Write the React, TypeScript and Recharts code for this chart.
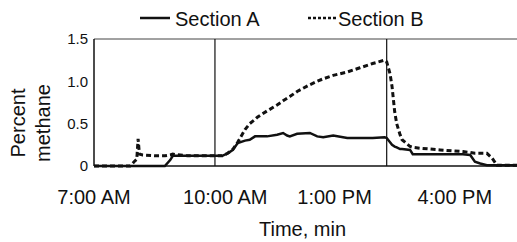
import React from 'react';
import { LineChart, Line, XAxis, YAxis, ReferenceLine, Label } from 'recharts';

// Time in minutes after midnight
const timeMin = [
  420, 474, 480, 484, 486, 488, 493, 514, 526, 534, 538, 560, 601, 612, 620, 628, 635, 646, 653, 661,
  665, 679, 694, 703, 709, 713, 724, 743, 754, 763, 778, 799, 818, 837, 855, 858, 863, 866, 870, 873,
  878, 881, 893, 897, 908, 938, 972, 983, 990, 998, 1008, 1016, 1023, 1040, 1056,
];
const sectionA = [
  0, 0, 0, 0, 0, 0, 0, 0, 0, 0.07, 0.12, 0.12, 0.12, 0.12, 0.15, 0.19, 0.27, 0.3, 0.31, 0.35,
  0.35, 0.35, 0.37, 0.39, 0.36, 0.35, 0.38, 0.39, 0.35, 0.34, 0.36, 0.33, 0.33, 0.33, 0.34, 0.33, 0.28, 0.25, 0.23, 0.22,
  0.2, 0.2, 0.19, 0.14, 0.14, 0.14, 0.14, 0.13, 0.05, 0.03, 0.01, 0.01, 0.01, 0.01, 0.01,
];
const sectionB = [
  0, 0, 0.05, 0.08, 0.32, 0.14, 0.13, 0.12, 0.12, 0.13, 0.14, 0.12, 0.12, 0.12, 0.15, 0.2, 0.28, 0.43, 0.5, 0.55,
  0.58, 0.65, 0.72, 0.77, 0.8, 0.82, 0.88, 0.96, 1.0, 1.03, 1.07, 1.11, 1.16, 1.21, 1.25, 1.23, 1.09, 0.94, 0.64, 0.5,
  0.37, 0.31, 0.23, 0.22, 0.21, 0.19, 0.17, 0.16, 0.15, 0.15, 0.15, 0.09, 0.01, 0.01, 0.01,
];
const xTicks = [420, 600, 780, 960];
const xTickLabels = ['7:00 AM', '10:00 AM', '1:00 PM', '4:00 PM'];
const yTicks = [0, 0.5, 1.0, 1.5];
const eventTimes = [601, 858];
const seriesNames = ['Section A', 'Section B'];

const data = timeMin.map((t, i) => ({ t, a: sectionA[i], b: sectionB[i] }));

const FONT = 'Liberation Sans, Arial, Helvetica, sans-serif';
const INK = '#111';

const XTick = (props: any) => {
  const { x, y, payload } = props;
  const idx = xTicks.indexOf(payload.value);
  const shift = payload.value === 600 ? 11 : 0;
  return (
    <text x={x + shift} y={y} dy="0.71em" textAnchor="middle" fontSize={20} fill={INK} fontFamily={FONT}>
      {xTickLabels[idx]}
    </text>
  );
};

const YTitle = () => {
  const cx = 25;
  const cy = 123;
  return (
    <text x={cx} y={cy} transform={`rotate(-90, ${cx}, ${cy})`} textAnchor="middle" fontSize={20} fill={INK} fontFamily={FONT}>
      <tspan x={cx} dy={0}>Percent</tspan>
      <tspan x={cx} dy={25}>methane</tspan>
    </text>
  );
};

export default function App() {
  return (
    <div style={{ position: 'absolute', left: 0, top: 0, width: 517, height: 242, overflow: 'hidden', background: '#fff' }}>
      <svg width={517} height={36} style={{ position: 'absolute', left: 0, top: 0 }}>
        <line x1={140} x2={170} y1={18} y2={18} stroke={INK} strokeWidth={2.5} />
        <text x={175} y={26} fontSize={20} fill={INK} fontFamily={FONT}>{seriesNames[0]}</text>
        <line x1={308} x2={337} y1={18} y2={18} stroke={INK} strokeWidth={2.5} strokeDasharray="3 2" />
        <text x={338} y={26} fontSize={20} fill={INK} fontFamily={FONT}>{seriesNames[1]}</text>
      </svg>
      <div style={{ position: 'absolute', left: 0, top: 0 }}>
        <LineChart width={530} height={242} data={data} margin={{ top: 39, right: 11, bottom: 0, left: 0 }}>
          <XAxis
            dataKey="t"
            type="number"
            domain={[420, 1056]}
            allowDataOverflow
            ticks={xTicks}
            tick={<XTick />}
            tickLine={false}
            tickSize={0}
            tickMargin={24}
            height={76}
            axisLine={{ stroke: INK, strokeWidth: 1.5 }}
            interval={0}
          >
            <Label value="Time, min" position="insideBottom" offset={6} dx={-4} fontSize={20} fill={INK} fontFamily={FONT} />
          </XAxis>
          <YAxis
            type="number"
            domain={[0, 1.5]}
            ticks={yTicks}
            width={94}
            tickLine={false}
            tickSize={0}
            tickMargin={6}
            axisLine={{ stroke: INK, strokeWidth: 1.5 }}
            tick={{ fontSize: 15, fill: INK, fontFamily: FONT }}
            tickFormatter={(v: number) => (v === 0 ? '0' : v.toFixed(1))}
          >
            <Label content={<YTitle />} />
          </YAxis>
          <ReferenceLine y={1.5} stroke="#444" strokeWidth={1} />
          {eventTimes.map((t) => (
            <ReferenceLine key={t} x={t} stroke={INK} strokeWidth={1.2} />
          ))}
          <Line dataKey="b" type="linear" stroke={INK} strokeWidth={3} strokeDasharray="5 3" dot={false} isAnimationActive={false} />
          <Line dataKey="a" type="linear" stroke={INK} strokeWidth={2.5} dot={false} isAnimationActive={false} />
        </LineChart>
      </div>
    </div>
  );
}
